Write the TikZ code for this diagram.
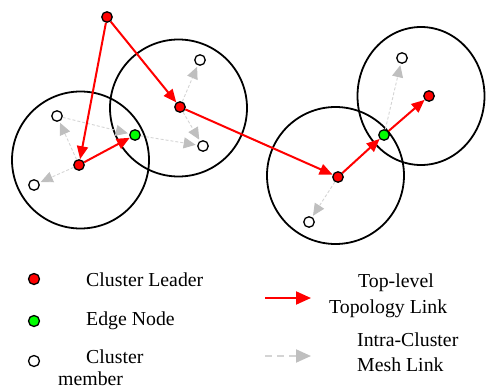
\documentclass[tikz,border=0pt]{standalone}
\usepackage{fontspec}
\setmainfont{Liberation Serif}
\usetikzlibrary{arrows.meta,backgrounds}
\definecolor{meshgray}{HTML}{D4D4D4}
\definecolor{headgray}{HTML}{BFBFBF}
\tikzset{
  dot/.style={circle,draw=black,line width=1.3pt,inner sep=0pt,minimum size=10.5pt},
  leader/.style={dot,fill=red},
  edgenode/.style={dot,fill=green},
  member/.style={dot,fill=white},
  cluster/.style={draw=black,line width=1.8pt},
  toplink/.style={draw=red,line width=2pt,-{Triangle[length=13pt,width=11pt]}},
  meshlink/.style={draw=meshgray,line width=0.9pt,dash pattern=on 3pt off 2pt,
     -{Triangle[length=12pt,width=11pt,color=headgray,fill=headgray]},shorten >=1.5pt},
  legtop/.style={draw=red,line width=2pt,-{Triangle[length=15pt,width=13pt]}},
  legmesh/.style={draw=meshgray,line width=2pt,dash pattern=on 7pt off 5pt,
     -{Triangle[length=15pt,width=13pt,color=headgray,fill=headgray]}},
  lab/.style={anchor=base west,inner sep=0pt,font=\fontsize{19.8}{23}\selectfont}
}
\begin{document}
\begin{tikzpicture}[x=1pt,y=-1pt]
\useasboundingbox (0,0) rectangle (487,391);
% nodes
\node[leader] (top) at (107,17) {};
\node[leader] (L1) at (79,165) {};
\node[leader] (L2) at (180,107) {};
\node[leader] (L3) at (338,177) {};
\node[leader] (L4) at (429,96) {};
\node[edgenode] (E1) at (135,135) {};
\node[edgenode] (E2) at (384,135) {};
\node[member] (M1) at (57,116) {};
\node[member] (M2) at (34,185) {};
\node[member] (M3) at (200,60) {};
\node[member] (M4) at (203,146) {};
\node[member] (M5) at (309,222) {};
\node[member] (M6) at (402,58) {};
\begin{pgfonlayer}{background}
\draw[cluster] (80.5,160) circle[radius=68.5];
\draw[cluster] (178.5,108) circle[radius=68.5];
\draw[cluster] (335.5,175.5) circle[radius=68.5];
\draw[cluster] (421,96) ellipse[x radius=63.5,y radius=69];
% mesh links
\draw[meshlink] (L1) -- (M1);
\draw[meshlink] (L1) -- (M2);
\draw[meshlink] (M1) -- (E1);
\draw[meshlink] (E1) -- (M4);
\draw[meshlink] (L2) -- (M3);
\draw[meshlink] (L2) -- (M4);
\draw[meshlink] (L3) -- (M5);
\draw[meshlink] (E2) -- (M6);
% top-level links
\draw[toplink] (top) -- (L1);
\draw[toplink] (top) -- (L2);
\draw[toplink] (L1) -- (E1);
\draw[toplink] (L2) -- (L3);
\draw[toplink] (L3) -- (E2);
\draw[toplink] (E2) -- (L4);
\end{pgfonlayer}
% legend
\node[leader,minimum size=11pt] (kL) at (34,279) {};
\node[edgenode,minimum size=11pt] (kE) at (34,321) {};
\node[member,minimum size=11pt] (kM) at (34,361) {};
\node[lab] (tL) at (86,286) {Cluster Leader};
\node[lab] (tE) at (86,325) {Edge Node};
\node[lab] (tM1) at (86,363) {Cluster};
\node[lab] (tM2) at (58,385) {member};
\coordinate (a1) at (265,298);
\coordinate (a2) at (311,298);
\draw[legtop] (a1) -- (a2);
\coordinate (b1) at (265,356);
\coordinate (b2) at (311,356);
\draw[legmesh] (b1) -- (b2);
\node[lab] (tT1) at (358,287) {Top-level};
\node[lab] (tT2) at (329,313) {Topology Link};
\node[lab] (tI1) at (357,346) {Intra-Cluster};
\node[lab] (tI2) at (357,371) {Mesh Link};
\end{tikzpicture}
\end{document}
